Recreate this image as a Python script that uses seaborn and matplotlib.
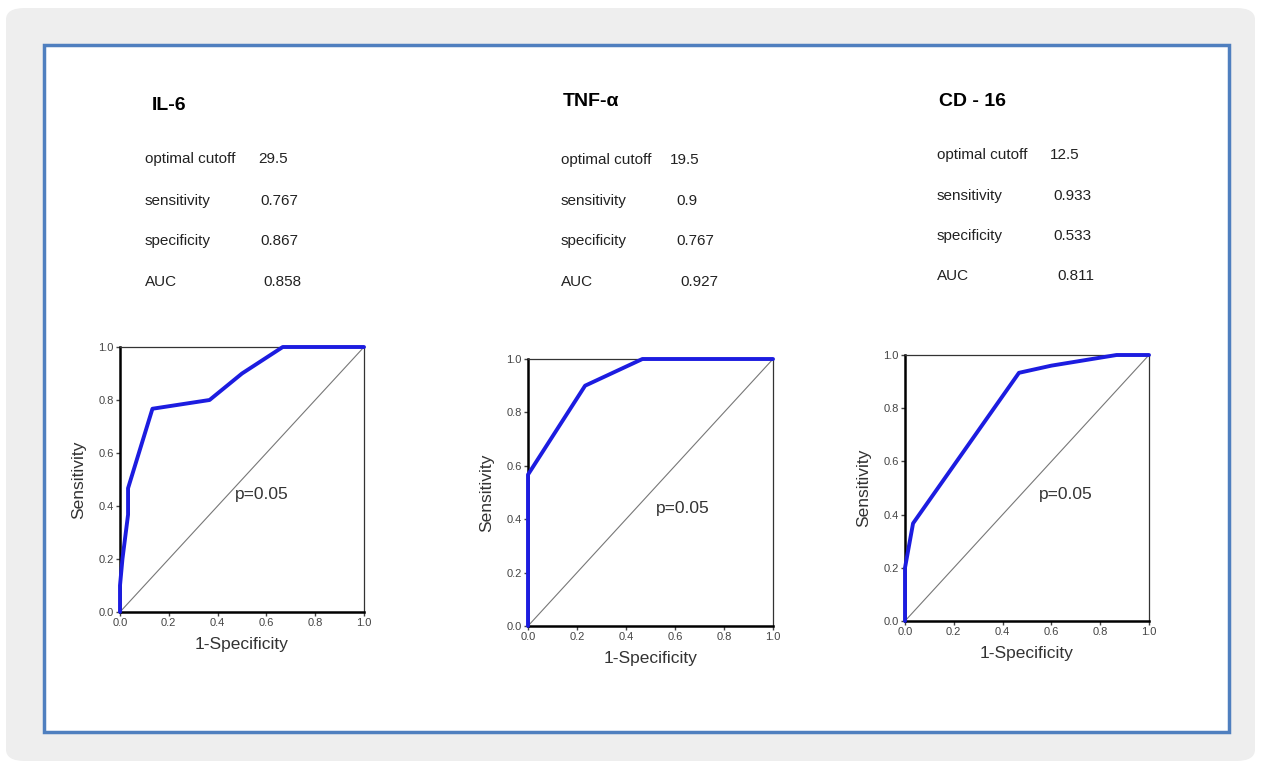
import matplotlib
matplotlib.use("Agg")
import matplotlib.pyplot as plt
import seaborn as sns
import pandas as pd
from matplotlib.patches import FancyBboxPatch, Rectangle

sns.set_theme(style="white")
plt.rcParams['font.family'] = ['Liberation Sans', 'DejaVu Sans']

# Data
markers = ["IL-6", "TNF-α", "CD - 16"]
stat_names = ["optimal cutoff", "sensitivity", "specificity", "AUC"]
il6_stats = ["29.5", "0.767", "0.867", "0.858"]
tnf_stats = ["19.5", "0.9", "0.767", "0.927"]
cd16_stats = ["12.5", "0.933", "0.533", "0.811"]

il6_fpr = [0.0, 0.0, 0.01, 0.033, 0.033, 0.133, 0.367, 0.5, 0.667, 1.0]
il6_tpr = [0.0, 0.1, 0.2, 0.367, 0.467, 0.767, 0.8, 0.9, 1.0, 1.0]
tnf_fpr = [0.0, 0.0, 0.233, 0.467, 1.0]
tnf_tpr = [0.0, 0.567, 0.9, 1.0, 1.0]
cd16_fpr = [0.0, 0.0, 0.033, 0.467, 0.6, 0.867, 1.0]
cd16_tpr = [0.0, 0.2, 0.367, 0.933, 0.96, 1.0, 1.0]
p_label = "p=0.05"
ticks = [0.0, 0.2, 0.4, 0.6, 0.8, 1.0]
tick_labels = ["0.0", "0.2", "0.4", "0.6", "0.8", "1.0"]

W, H = 1261, 769
fig = plt.figure(figsize=(W / 100, H / 100), dpi=100)
fig.patch.set_facecolor("white")

# background panels
fig.patches.append(FancyBboxPatch((6 / W, 8 / H), (W - 12) / W, (H - 16) / H,
                                  boxstyle="round,pad=0,rounding_size=0.015",
                                  transform=fig.transFigure, facecolor="#eeeeee",
                                  edgecolor="none", zorder=0))
fig.patches.append(Rectangle((44 / W, (H - 732) / H), (1229 - 44) / W, (732 - 45) / H,
                             transform=fig.transFigure, facecolor="white",
                             edgecolor="#4f7fbf", linewidth=2.5, zorder=1))

panels = [
    dict(name=markers[0], fpr=il6_fpr, tpr=il6_tpr, stats=il6_stats,
         box=(120, 347, 364, 612), title=(152, 106), sx=145, vx=[258, 260, 260, 263],
         sy=[159, 201, 241, 282], p=(262, 495)),
    dict(name=markers[1], fpr=tnf_fpr, tpr=tnf_tpr, stats=tnf_stats,
         box=(528, 359, 773, 626), title=(563, 101), sx=561, vx=[670, 676, 676, 680],
         sy=[160, 201, 241, 282], p=(683, 509)),
    dict(name=markers[2], fpr=cd16_fpr, tpr=cd16_tpr, stats=cd16_stats,
         box=(905, 355, 1149, 621), title=(939, 102), sx=937, vx=[1050, 1053, 1053, 1057],
         sy=[155, 196, 236, 276], p=(1066, 494)),
]

for pnl in panels:
    x0, y1, x1, y0 = pnl["box"]
    ax = fig.add_axes([x0 / W, (H - y0) / H, (x1 - x0) / W, (y0 - y1) / H])
    ax.set_zorder(5)
    ax.set_facecolor("white")
    df = pd.DataFrame({"fpr": pnl["fpr"], "tpr": pnl["tpr"]})
    ax.plot([0, 1], [0, 1], color="#777777", linewidth=0.8, zorder=2)
    sns.lineplot(data=df, x="fpr", y="tpr", sort=False, estimator=None, ax=ax,
                 color="#1c1ce0", linewidth=2.8, zorder=3, clip_on=False)
    ax.set_xlim(0, 1)
    ax.set_ylim(0, 1)
    ax.set_xticks(ticks)
    ax.set_yticks(ticks)
    ax.set_xticklabels(tick_labels)
    ax.set_yticklabels(tick_labels)
    ax.tick_params(axis="both", which="both", direction="out", length=3, width=1,
                   labelsize=8, colors="#444444", pad=1.5, bottom=True, left=True)
    for side in ["left", "bottom"]:
        ax.spines[side].set_linewidth(1.8)
        ax.spines[side].set_color("black")
    for side in ["top", "right"]:
        ax.spines[side].set_linewidth(0.9)
        ax.spines[side].set_color("#333333")
    ax.set_xlabel("1-Specificity", fontsize=12.5, color="#333333", labelpad=6)
    ax.set_ylabel("Sensitivity", fontsize=12.5, color="#333333", labelpad=9)
    px, py = pnl["p"]
    ax.text((px - x0) / (x1 - x0), (y0 - py) / (y0 - y1), p_label,
            transform=ax.transAxes, ha="center", va="center", fontsize=12.5,
            color="#333333")
    tx, ty = pnl["title"]
    fig.text(tx / W, (H - ty) / H, pnl["name"], ha="left", va="center",
             fontsize=14, fontweight="bold", color="black", zorder=5)
    for name, val, vx, sy in zip(stat_names, pnl["stats"], pnl["vx"], pnl["sy"]):
        fig.text(pnl["sx"] / W, (H - sy) / H, name, ha="left", va="center",
                 fontsize=11, color="#222222", zorder=5)
        fig.text(vx / W, (H - sy) / H, val, ha="left", va="center",
                 fontsize=11, color="#222222", zorder=5)

fig.savefig("out.png", dpi=100)
